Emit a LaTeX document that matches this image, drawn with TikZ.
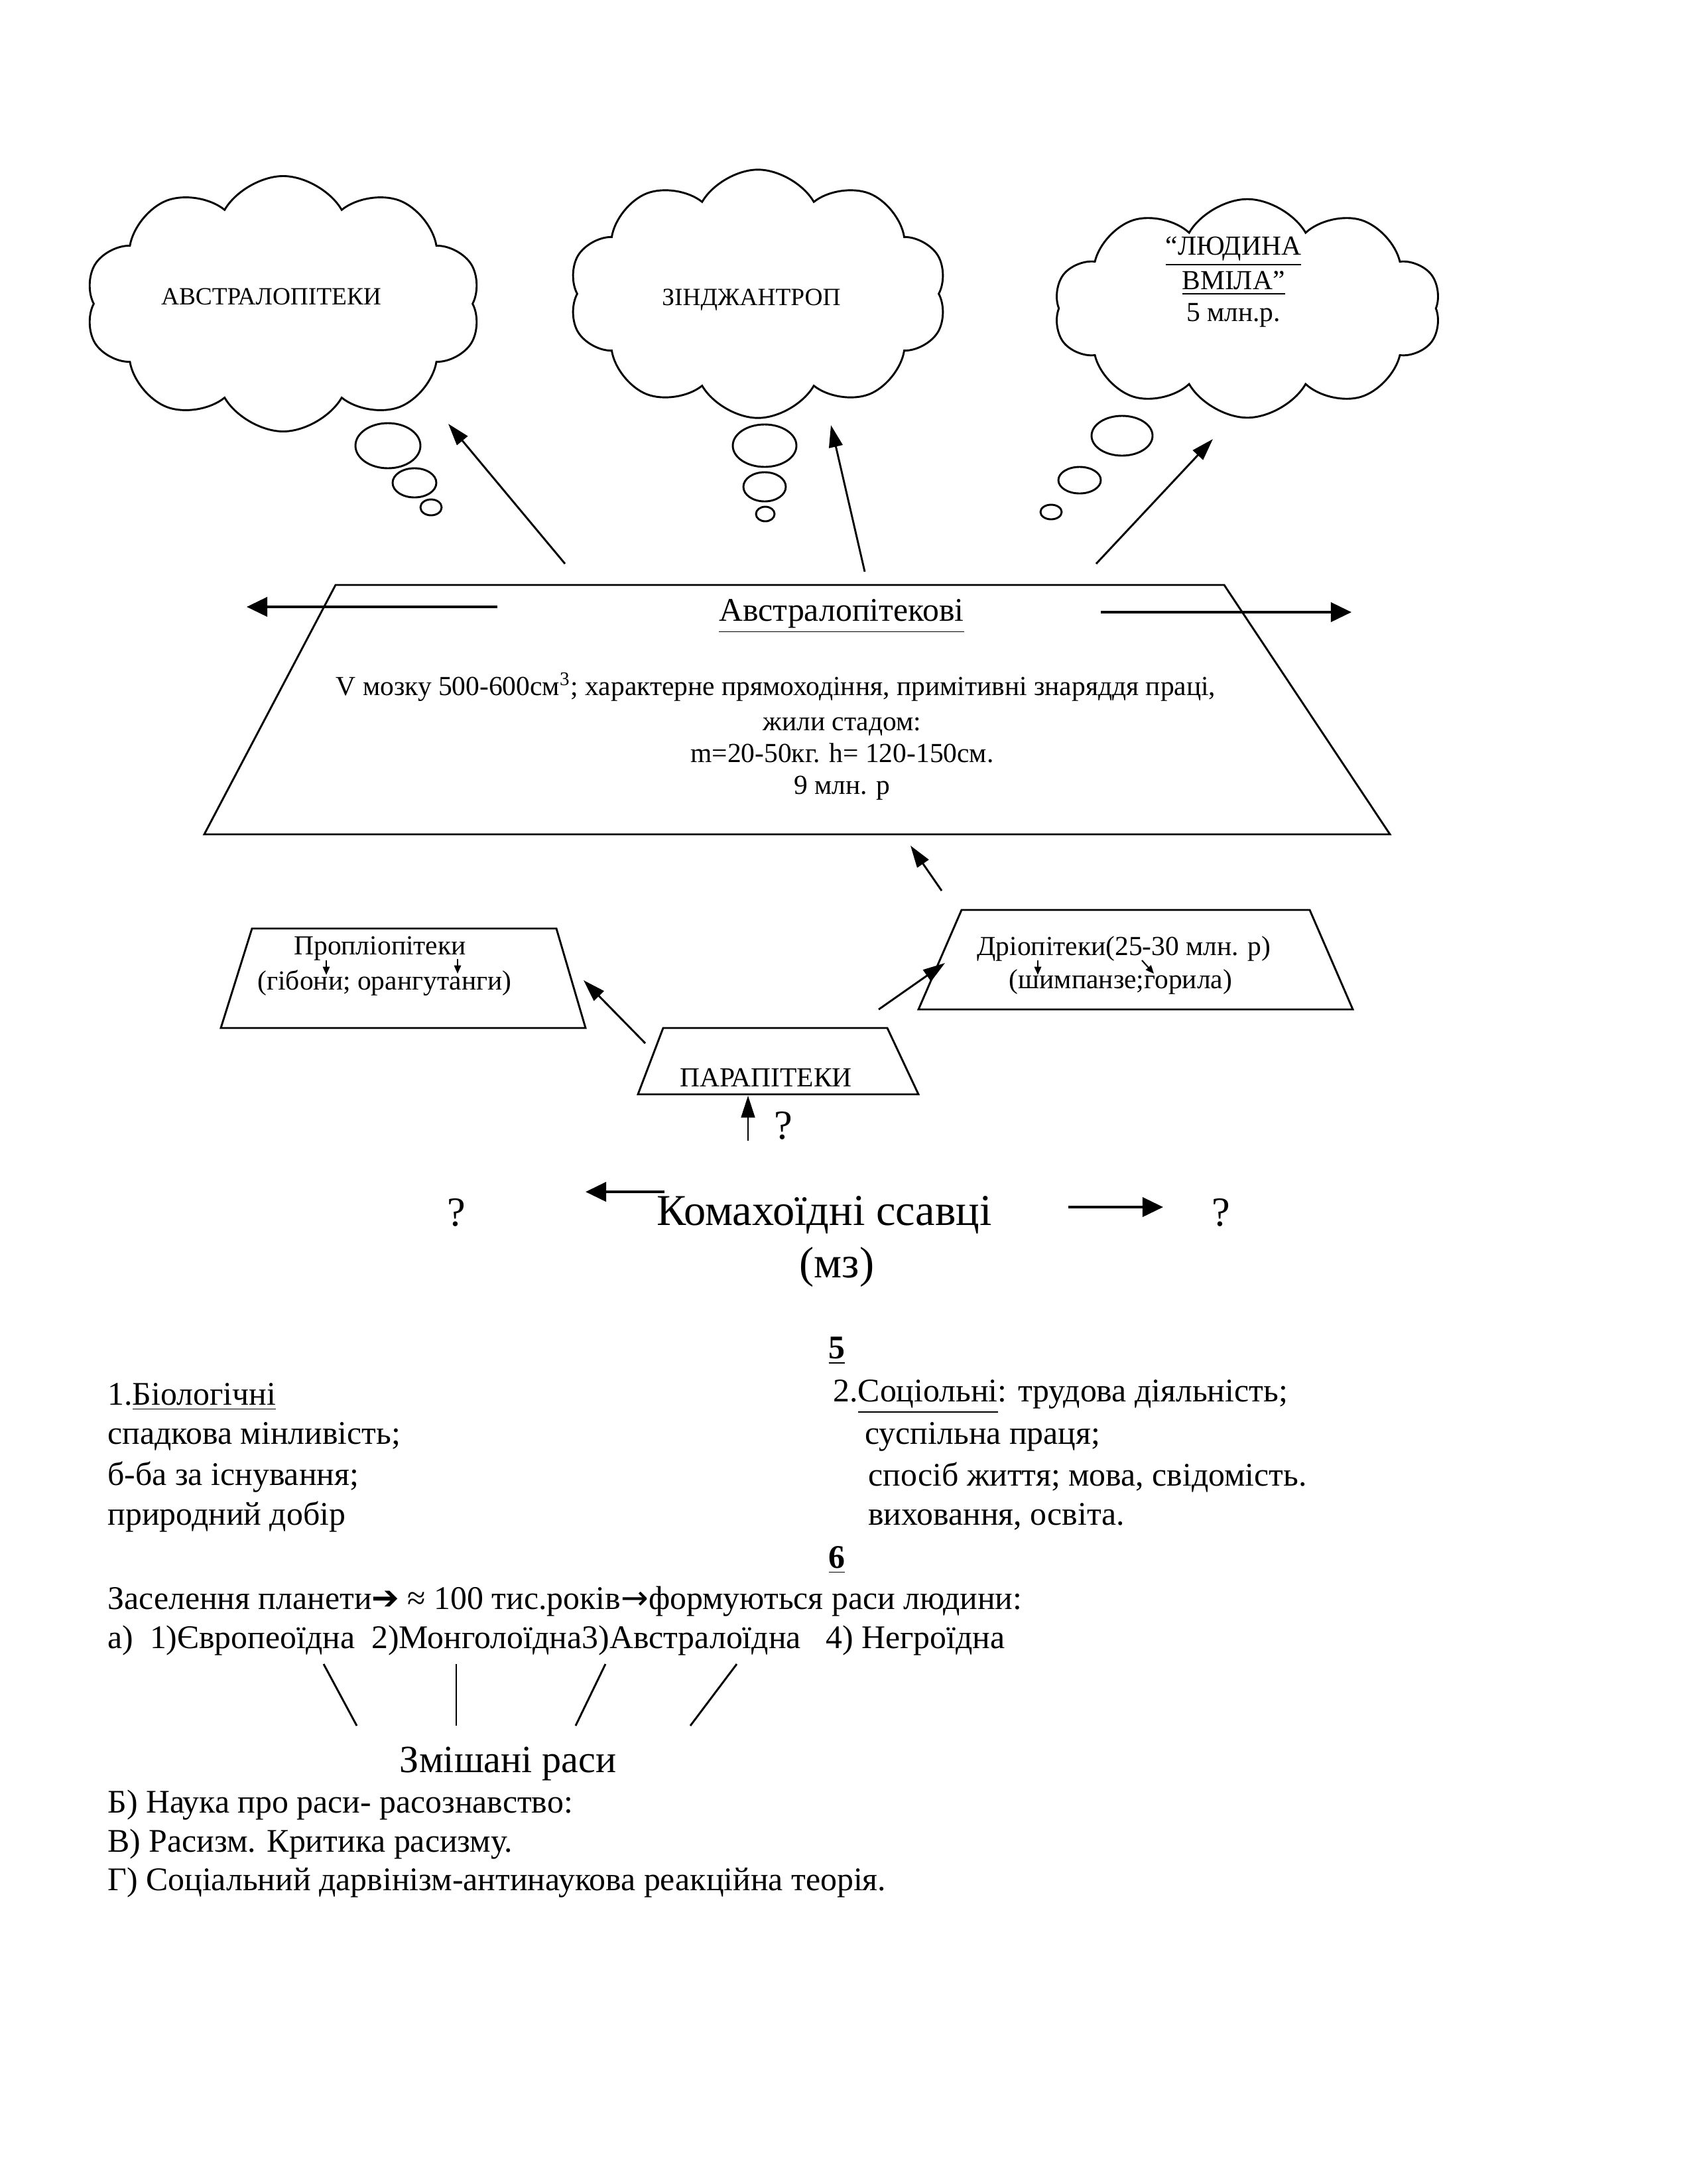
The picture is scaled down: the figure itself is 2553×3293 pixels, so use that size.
\documentclass[tikz,border=0pt]{standalone}
\usepackage{fontspec}
\setmainfont{Liberation Serif}
\newfontfamily\symfont{DejaVu Sans}
\usetikzlibrary{arrows.meta,shapes.symbols}

\begin{document}
\begin{tikzpicture}[x=0.0846667mm, y=-0.0846667mm, line width=0.7pt,
    cloudbox/.style={cloud, draw, cloud puffs=10, cloud puff arc=120, inner sep=0pt},
    arr/.style={-{Triangle[length=8pt,width=5pt]}},
    bigarr/.style={-{Triangle[length=7.5pt,width=7pt]}, line width=1pt},
    tinyarr/.style={-{Triangle[length=3pt,width=2.5pt]}, line width=0.5pt},
    txt/.style={inner sep=0pt, font=\fontsize{10}{11.6}\selectfont},
    bodytxt/.style={inner sep=0pt, font=\fontsize{12}{14}\selectfont}]
    \useasboundingbox (0,0) rectangle (2553,3293);

    % clouds with their bubbles
    \node [cloudbox, minimum width=50.5mm, minimum height=32.6mm] (cl1) at (427,458) {};
    \node [cloudbox, minimum width=48.3mm, minimum height=31.7mm] (cl2) at (1143,443) {};
    \node [cloudbox, minimum width=49.4mm, minimum height=27.9mm] (cl3) at (1881,465) {};
    \node [txt, font=\fontsize{9}{11}\selectfont] (austr) at (409,447) {АВСТРАЛОПІТЕКИ};
    \node [txt, font=\fontsize{9}{11}\selectfont] (zinj) at (1133,452) {ЗІНДЖАНТРОП};
    \node [txt, align=center] (habil) at (1860,425) {\underline{“ЛЮДИНА}\\[1pt] \underline{ВМІЛА”}\\ 5 млн.р.};
    \draw (585,672) ellipse [x radius=49, y radius=34];
    \draw (625,728) ellipse [x radius=33, y radius=22];
    \draw (650,765) ellipse [x radius=16, y radius=12];
    \draw (1153,672) ellipse [x radius=48, y radius=32];
    \draw (1153,734) ellipse [x radius=32, y radius=22];
    \draw (1154,775) ellipse [x radius=14, y radius=11];
    \draw (1692,657) ellipse [x radius=46, y radius=30];
    \draw (1628,724) ellipse [x radius=32, y radius=20];
    \draw (1585,772) ellipse [x radius=16, y radius=11];

    % main trapezium
    \coordinate (bigTL) at (506,882);
    \coordinate (bigTR) at (1846,882);
    \coordinate (bigBR) at (2096,1258);
    \coordinate (bigBL) at (308,1258);
    \draw (bigTL) -- (bigTR) -- (bigBR) -- (bigBL) -- cycle;
    \node [txt, font=\fontsize{12}{14}\selectfont] (austrtitle) at (1269,929) {\underline{Австралопітекові}};
    \node [txt] (brain) at (1170,1036) {V мозку 500-600см\textsuperscript{3}; характерне прямоходіння, примітивні знаряддя праці,};
    \node [txt, align=center] (herd) at (1270,1144) {жили стадом:\\ m=20-50кг. h= 120-150см.\\ 9 млн. р};
    \coordinate (l1) at (750,915);
    \coordinate (l2) at (372,915);
    \coordinate (r1) at (1660,923);
    \coordinate (r2) at (2038,923);
    \draw [bigarr] (l1) -- (l2);
    \draw [bigarr] (r1) -- (r2);

    % arrows up to the clouds
    \coordinate (a1) at (852,850);
    \coordinate (b1) at (676,639);
    \coordinate (a2) at (1304,862);
    \coordinate (b2) at (1253,641);
    \coordinate (a3) at (1653,850);
    \coordinate (b3) at (1829,662);
    \draw [arr] (a1) -- (b1);
    \draw [arr] (a2) -- (b2);
    \draw [arr] (a3) -- (b3);

    % small trapezia
    \draw (380,1400) -- (839,1400) -- (883,1550) -- (333,1550) -- cycle;
    \node [txt] (propl) at (573,1430) {Пропліопітеки};
    \node [txt] (gibbon) at (580,1482) {(гібони; орангутанги)};
    \draw [tinyarr] (492,1448) -- (492,1470);
    \draw [tinyarr] (690,1446) -- (690,1468);

    \draw (1450,1372) -- (1975,1372) -- (2040,1522) -- (1385,1522) -- cycle;
    \node [txt] (driop) at (1695,1430) {Дріопітеки(25-30 млн. р)};
    \node [txt] (chimp) at (1690,1480) {(шимпанзе;горила)};
    \draw [tinyarr] (1565,1448) -- (1565,1470);
    \draw [tinyarr] (1722,1448) -- (1740,1468);

    \draw (1000,1550) -- (1338,1550) -- (1385,1650) -- (962,1650) -- cycle;
    \node [txt] (parap) at (1155,1625) {ПАРАПІТЕКИ};

    \coordinate (p1) at (973,1573);
    \coordinate (p2) at (880,1478);
    \coordinate (p3) at (1325,1522);
    \coordinate (p4) at (1425,1452);
    \coordinate (p5) at (1420,1343);
    \coordinate (p6) at (1373,1275);
    \draw [arr] (p1) -- (p2);
    \draw [arr] (p3) -- (p4);
    \draw [arr] (p5) -- (p6);
    \coordinate (q1) at (1128,1720);
    \coordinate (q2) at (1128,1652);
    \draw [arr] (q1) -- (q2);
    \node [txt, font=\fontsize{15}{18}\selectfont] (qpar) at (1181,1697) {?};

    % insectivores
    \node [txt, font=\fontsize{16}{19}\selectfont] (insect) at (1243,1832) {Комахоїдні ссавці};
    \node [txt, font=\fontsize{16}{19}\selectfont] (mz) at (1262,1911) {(мз)};
    \node [txt, font=\fontsize{15}{18}\selectfont] (qleft) at (688,1828) {?};
    \node [txt, font=\fontsize{15}{18}\selectfont] (qright) at (1841,1828) {?};
    \coordinate (k1) at (1002,1797);
    \coordinate (k2) at (883,1797);
    \coordinate (k3) at (1611,1820);
    \coordinate (k4) at (1754,1820);
    \draw [bigarr] (k1) -- (k2);
    \draw [bigarr] (k3) -- (k4);

    % factors
    \node [bodytxt] (five) at (1262,2037) {\textbf{\underline{5}}};
    \node [bodytxt, anchor=west] (bio) at (161,2106) {1.\underline{Біологічні}};
    \node [bodytxt, anchor=west] (bio1) at (161,2166) {спадкова мінливість;};
    \node [bodytxt, anchor=west] (bio2) at (161,2227) {б-ба за існування;};
    \node [bodytxt, anchor=west] (bio3) at (161,2287) {природний добір};
    \node [bodytxt, anchor=west] (soc) at (1255,2106) {2.\underline{Соціольні}: трудова діяльність;};
    \node [bodytxt, anchor=west] (soc1) at (1303,2166) {суспільна праця;};
    \node [bodytxt, anchor=west] (soc2) at (1308,2227) {спосіб життя; мова, свідомість.};
    \node [bodytxt, anchor=west] (soc3) at (1308,2287) {виховання, освіта.};

    % races
    \node [bodytxt] (six) at (1262,2352) {\textbf{\underline{6}}};
    \node [bodytxt, anchor=west] (settle) at (161,2415) {Заселення планети{\symfont ➔} ≈ 100 тис.років{\symfont →}формуються раси людини:};
    \node [bodytxt, anchor=west] (races) at (161,2473) {а)\ \ 1)Європеоїдна\ \ 2)Монголоїдна3)Австралоїдна\ \ \ 4) Негроїдна};
    \coordinate (m1) at (488,2509);
    \coordinate (n1) at (538,2602);
    \coordinate (m2) at (688,2509);
    \coordinate (n2) at (688,2602);
    \coordinate (m3) at (913,2509);
    \coordinate (n3) at (868,2602);
    \coordinate (m4) at (1111,2509);
    \coordinate (n4) at (1041,2602);
    \draw (m1) -- (n1);
    \draw (m2) -- (n2);
    \draw (m3) -- (n3);
    \draw (m4) -- (n4);
    \node [txt, font=\fontsize{14}{17}\selectfont] (mixed) at (766,2659) {Змішані раси};
    \node [bodytxt, anchor=west] (sci) at (161,2722) {Б) Наука про раси- расознавство:};
    \node [bodytxt, anchor=west] (racism) at (161,2781) {В) Расизм. Критика расизму.};
    \node [bodytxt, anchor=west] (darw) at (161,2839) {Г) Соціальний дарвінізм-антинаукова реакційна теорія.};
\end{tikzpicture}
\end{document}
